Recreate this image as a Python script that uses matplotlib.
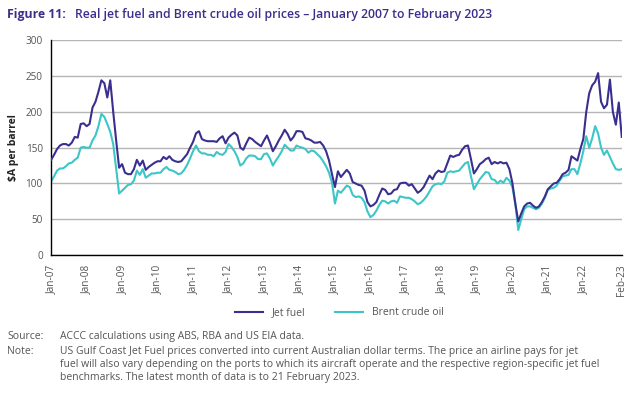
import matplotlib
matplotlib.use("Agg")
import matplotlib.pyplot as plt
import numpy as np

# monthly values, Jan 2007 .. Feb 2023 ($A per barrel)
jet_fuel = [
    133, 140, 148, 153, 155, 155, 153, 157, 165, 164, 183, 184,   # 2007
    180, 183, 206, 214, 228, 244, 240, 220, 244, 200, 160, 122,   # 2008
    127, 115, 113, 113, 120, 133, 125, 132, 119, 123, 126, 129,   # 2009
    131, 131, 137, 134, 138, 133, 131, 130, 131, 136, 141, 150,   # 2010
    158, 170, 173, 162, 160, 159, 159, 159, 158, 163, 166, 156,   # 2011
    164, 168, 171, 167, 150, 147, 156, 164, 162, 158, 155, 152,   # 2012
    160, 167, 157, 145, 152, 160, 167, 175, 169, 160, 165, 173,   # 2013
    173, 172, 163, 162, 160, 157, 157, 158, 153, 145, 132, 113,   # 2014
    95, 117, 109, 114, 119, 114, 102, 100, 98, 97, 90, 74,        # 2015
    68, 70, 74, 84, 93, 91, 85, 86, 91, 92, 100, 101,             # 2016
    101, 97, 99, 93, 87, 90, 95, 103, 111, 106, 114, 118,         # 2017
    116, 117, 128, 139, 137, 139, 140, 147, 152, 153, 134, 114,   # 2018
    120, 127, 130, 134, 136, 127, 130, 128, 130, 128, 129, 120,   # 2019
    101, 72, 47, 58, 68, 72, 73, 69, 66, 68, 74, 82,              # 2020
    92, 96, 100, 101, 106, 113, 115, 119, 138, 135, 132, 148,     # 2021
    162, 200, 226, 237, 242, 254, 214, 205, 210, 245, 200, 182,   # 2022
    213, 165,                                                     # 2023
]
brent = [
    103, 110, 118, 121, 121, 124, 128, 129, 133, 136, 150, 151,
    150, 150, 160, 167, 180, 197, 193, 183, 172, 155, 120, 86,
    90, 94, 98, 99, 104, 118, 112, 120, 108, 111, 114, 114,
    115, 115, 120, 123, 119, 118, 116, 113, 114, 119, 126, 135,
    145, 153, 145, 142, 142, 140, 140, 138, 144, 141, 140, 144,
    155, 151, 145, 137, 125, 128, 135, 139, 139, 138, 134, 134,
    141, 142, 135, 125, 132, 138, 145, 154, 150, 146, 146, 153,
    151, 150, 148, 143, 146, 145, 141, 137, 131, 124, 115, 101,
    72, 90, 87, 92, 97, 95, 84, 81, 82, 80, 74, 61,
    53, 56, 62, 70, 76, 75, 72, 75, 76, 73, 82, 81,
    80, 80, 78, 75, 71, 73, 77, 82, 89, 96, 99, 100,
    99, 103, 115, 117, 116, 117, 118, 123, 128, 130, 110, 92,
    99, 106, 111, 116, 115, 106, 105, 100, 104, 101, 108, 104,
    95, 72, 35, 50, 64, 68, 68, 66, 64, 66, 72, 80,
    91, 93, 94, 97, 104, 110, 111, 112, 120, 120, 113, 128,
    145, 166, 150, 163, 180, 170, 150, 140, 146, 137, 128, 120,
    119, 120,
]
tick_labels = ['Jan-07', 'Jan-08', 'Jan-09', 'Jan-10', 'Jan-11', 'Jan-12',
               'Jan-13', 'Jan-14', 'Jan-15', 'Jan-16', 'Jan-17', 'Jan-18',
               'Jan-19', 'Jan-20', 'Jan-21', 'Jan-22', 'Feb-23']
tick_months = [0, 12, 24, 36, 48, 60, 72, 84, 96, 108, 120, 132,
               144, 156, 168, 180, 193]

PURPLE = '#3a2f8e'
TEAL = '#3cc6c8'
GREY = '#555555'

plt.rcParams['font.family'] = ['Open Sans', 'DejaVu Sans']

fig = plt.figure(figsize=(6.39, 3.98), dpi=100)
ax = fig.add_axes([0.080, 0.359, 0.893, 0.540])

x = np.arange(len(jet_fuel))
ax.plot(x, jet_fuel, color=PURPLE, lw=1.5, label='Jet fuel', zorder=3)
ax.plot(x, brent, color=TEAL, lw=1.5, label='Brent crude oil', zorder=2)

ax.set_xlim(0, 193)
ax.set_ylim(0, 300)
ax.set_yticks(range(0, 301, 50))
ax.set_xticks(tick_months)
ax.set_xticklabels(tick_labels, rotation=90)
ax.tick_params(axis='both', length=0, labelsize=7.2, labelcolor=GREY)
ax.tick_params(axis='y', pad=6)
ax.tick_params(axis='x', pad=7)
ax.grid(axis='y', color='#b5b5b5', lw=1)
ax.set_axisbelow(True)
for s in ['top', 'right']:
    ax.spines[s].set_visible(False)
for s in ['left', 'bottom']:
    ax.spines[s].set_color('black')
    ax.spines[s].set_linewidth(1)
ax.set_ylabel('$A per barrel', fontsize=7.5, fontweight='bold', color='#222222', labelpad=5)

ax.legend(loc='upper center', bbox_to_anchor=(0.505, -0.2), ncol=2, frameon=False,
          fontsize=7.5, handlelength=2.7, columnspacing=2.9, labelcolor=GREY)

fig.text(0.011, 0.955, 'Figure 11:', fontsize=8.8, fontweight='bold', color=PURPLE)
fig.text(0.117, 0.955, 'Real jet fuel and Brent crude oil prices \u2013 January 2007 to February 2023',
         fontsize=8.8, fontweight='semibold', color=PURPLE)

note_kw = dict(fontsize=7.5, color=GREY)
fig.text(0.011, 0.148, 'Source:', **note_kw)
fig.text(0.094, 0.148, 'ACCC calculations using ABS, RBA and US EIA data.', **note_kw)
fig.text(0.011, 0.110, 'Note:', **note_kw)
fig.text(0.094, 0.110, 'US Gulf Coast Jet Fuel prices converted into current Australian dollar terms. '
         'The price an airline pays for jet', **note_kw)
fig.text(0.094, 0.078, 'fuel will also vary depending on the ports to which its aircraft operate '
         'and the respective region-specific jet fuel', **note_kw)
fig.text(0.094, 0.046, 'benchmarks. The latest month of data is to 21 February 2023.', **note_kw)

fig.savefig('out.png', dpi=100)
